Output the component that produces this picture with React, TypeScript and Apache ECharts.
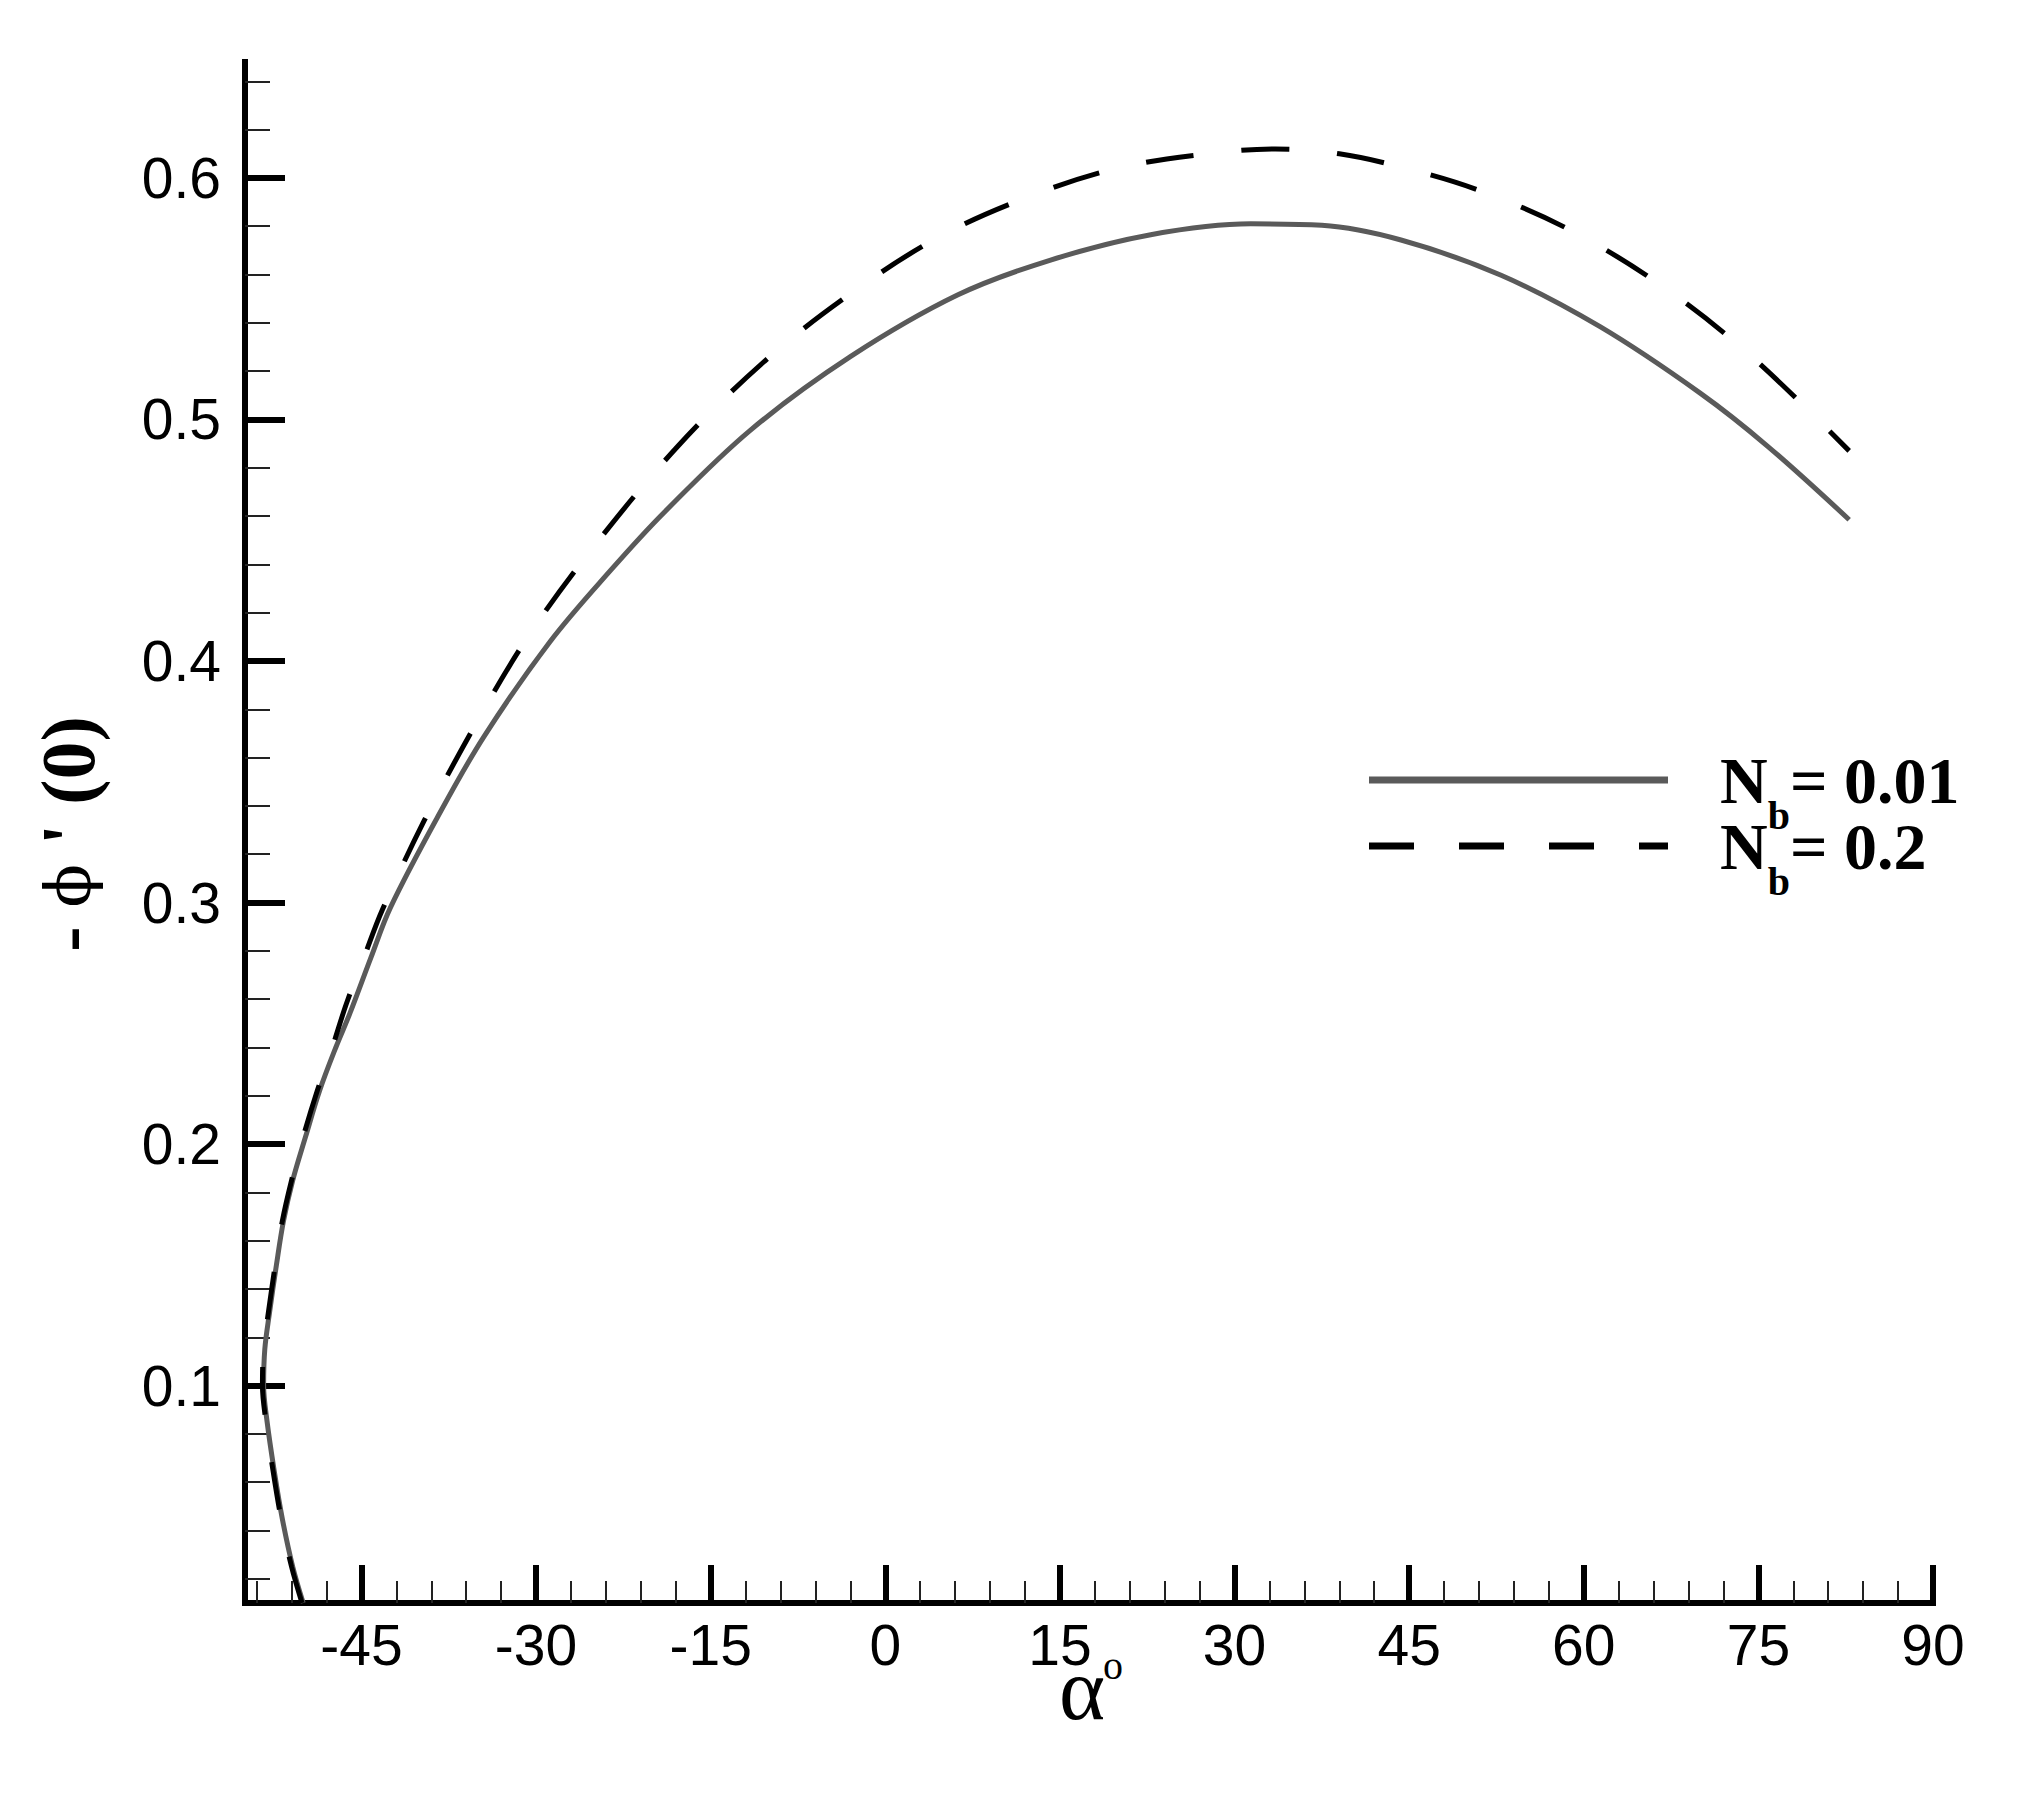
import React, { useEffect, useRef } from "react";
import * as echarts from "echarts";

// ---- data (alpha in degrees, -phi'(0)) ----
const alphaNb001 = [
  -50.0, -50.9, -51.8, -52.5, -53.1, -53.4, -53.3, -52.9, -52.3, -51.7, -50.9, -49.8,
  -48.6, -47.2, -46.0, -44.2, -42.5, -38.5, -34.5, -28.8, -23.6, -19.0, -11.6, -3.0,
  6.2, 14.2, 22.8, 31.4, 37.5, 44.3, 52.9, 61.4, 70.0, 75.8, 82.8,
];
const phiNb001 = [
  0.010, 0.025, 0.045, 0.065, 0.085, 0.100, 0.115, 0.130, 0.150, 0.168, 0.185, 0.203,
  0.222, 0.240, 0.254, 0.277, 0.298, 0.335, 0.3685, 0.408, 0.4375, 0.4615, 0.4955, 0.526,
  0.5515, 0.566, 0.5765, 0.581, 0.5804, 0.5743, 0.5597, 0.5384, 0.5109, 0.4889, 0.4585,
];
const alphaNb02 = [
  -50.1, -51.0, -51.9, -52.6, -53.2, -53.5, -53.4, -53.0, -52.4, -51.8, -51.0, -50.0,
  -48.8, -47.5, -46.3, -44.8, -43.2, -39.6, -35.4, -30.7, -25.1, -17.8, -10.4, -3.3,
  4.4, 12.2, 19.9, 27.7, 33.5, 39.0, 44.7, 50.9, 58.6, 66.5, 74.2, 82.8,
];
const phiNb02 = [
  0.010, 0.025, 0.045, 0.065, 0.085, 0.100, 0.115, 0.130, 0.150, 0.168, 0.185, 0.203,
  0.222, 0.240, 0.258, 0.277, 0.297, 0.334, 0.372, 0.410, 0.447, 0.489, 0.524, 0.551,
  0.575, 0.592, 0.604, 0.610, 0.612, 0.610, 0.604, 0.595, 0.579, 0.556, 0.527, 0.487,
];

const seriesNames = ["Nb = 0.01", "Nb = 0.2"];
const legendValues = ["0.01", "0.2"];

const xMajorTicks = [-45, -30, -15, 0, 15, 30, 45, 60, 75, 90];
const xMinorTicks = [
  -54, -51, -48, -42, -39, -36, -33, -27, -24, -21, -18, -12, -9, -6, -3, 3, 6, 9, 12,
  18, 21, 24, 27, 33, 36, 39, 42, 48, 51, 54, 57, 63, 66, 69, 72, 78, 81, 84, 87,
];
const yMajorTicks = [0.1, 0.2, 0.3, 0.4, 0.5, 0.6];
const yMinorTicks = [
  0.02, 0.04, 0.06, 0.08, 0.12, 0.14, 0.16, 0.18, 0.22, 0.24, 0.26, 0.28, 0.32, 0.34,
  0.36, 0.38, 0.42, 0.44, 0.46, 0.48, 0.52, 0.54, 0.56, 0.58, 0.62, 0.64,
];

const xMin = -55;
const xMax = 90;
const yMin = 0.01;
const yMax = 0.648;

const SERIF = "'Liberation Serif', 'Times New Roman', Times, serif";
const SANS = "'Liberation Sans', Arial, Helvetica, sans-serif";
const SOLID_COLOR = "#5a5a5a";

function zip(xs: number[], ys: number[]) {
  return xs.map((x, i) => [x, ys[i]]);
}

function buildOption() {
  const legendRich = {
    n: {
      fontSize: 66,
      lineHeight: 110,
      fontWeight: "bold",
      fontFamily: SERIF,
      verticalAlign: "middle",
      fill: "#000",
    },
    b: {
      fontSize: 40,
      lineHeight: 40,
      fontWeight: "bold",
      fontFamily: SERIF,
      verticalAlign: "bottom",
      fill: "#000",
    },
  };

  const legendRowsY = [780, 846];

  return {
    animation: false,
    backgroundColor: "#ffffff",
    grid: { left: 245, right: 96, top: 62, bottom: 193, containLabel: false },
    xAxis: [
      {
        type: "value",
        min: xMin,
        max: xMax,
        position: "bottom",
        axisLine: { show: true, onZero: false, lineStyle: { color: "#000", width: 6, cap: "square" } },
        axisTick: {
          show: true,
          inside: true,
          length: 38,
          customValues: xMajorTicks,
          lineStyle: { color: "#000", width: 6 },
        },
        axisLabel: {
          show: true,
          customValues: xMajorTicks,
          margin: 13,
          fontSize: 57,
          fontFamily: SANS,
          color: "#000",
        },
        splitLine: { show: false },
        minorTick: { show: false },
      },
      {
        type: "value",
        min: xMin,
        max: xMax,
        position: "bottom",
        axisLine: { show: false, onZero: false },
        axisTick: {
          show: true,
          inside: true,
          length: 22,
          customValues: xMinorTicks,
          lineStyle: { color: "#222", width: 2 },
        },
        axisLabel: { show: false },
        splitLine: { show: false },
      },
    ],
    yAxis: [
      {
        type: "value",
        min: yMin,
        max: yMax,
        position: "left",
        axisLine: { show: true, onZero: false, lineStyle: { color: "#000", width: 6, cap: "square" } },
        axisTick: {
          show: true,
          inside: true,
          length: 40,
          customValues: yMajorTicks,
          lineStyle: { color: "#000", width: 6 },
        },
        axisLabel: {
          show: true,
          customValues: yMajorTicks,
          margin: 24,
          fontSize: 57,
          fontFamily: SANS,
          color: "#000",
          formatter: (v: number) => v.toFixed(1),
        },
        splitLine: { show: false },
        minorTick: { show: false },
      },
      {
        type: "value",
        min: yMin,
        max: yMax,
        position: "left",
        axisLine: { show: false, onZero: false },
        axisTick: {
          show: true,
          inside: true,
          length: 25,
          customValues: yMinorTicks,
          lineStyle: { color: "#222", width: 2 },
        },
        axisLabel: { show: false },
        splitLine: { show: false },
      },
    ],
    series: [
      {
        type: "line",
        name: seriesNames[0],
        xAxisIndex: 0,
        yAxisIndex: 0,
        data: zip(alphaNb001, phiNb001),
        symbol: "none",
        showSymbol: false,
        smooth: 0.35,
        clip: false,
        lineStyle: { color: SOLID_COLOR, width: 5 },
        z: 3,
      },
      {
        type: "line",
        name: seriesNames[1],
        xAxisIndex: 0,
        yAxisIndex: 0,
        data: zip(alphaNb02, phiNb02),
        symbol: "none",
        showSymbol: false,
        smooth: 0.35,
        clip: false,
        lineStyle: { color: "#000", width: 5, type: [48, 48] },
        z: 4,
      },
    ],
    graphic: [
      // legend samples
      {
        type: "line",
        shape: { x1: 1369, y1: legendRowsY[0], x2: 1668, y2: legendRowsY[0] },
        style: { stroke: SOLID_COLOR, lineWidth: 7 },
      },
      {
        type: "line",
        shape: { x1: 1369, y1: legendRowsY[1], x2: 1668, y2: legendRowsY[1] },
        style: { stroke: "#000", lineWidth: 7, lineDash: [45, 45] },
      },
      {
        type: "text",
        x: 1720,
        y: legendRowsY[0] - 55,
        style: {
          text: `{n|N}{b|b}{n|= ${legendValues[0]}}`,
          rich: legendRich,
          align: "left",
          verticalAlign: "top",
        },
      },
      {
        type: "text",
        x: 1720,
        y: legendRowsY[1] - 55,
        style: {
          text: `{n|N}{b|b}{n|= ${legendValues[1]}}`,
          rich: legendRich,
          align: "left",
          verticalAlign: "top",
        },
      },
      // y-axis title (rotated)
      {
        type: "text",
        x: 68,
        y: 834,
        rotation: Math.PI / 2,
        style: {
          text: "{h|- }{p|ϕ}{h| ' (0)}",
          align: "center",
          verticalAlign: "middle",
          rich: {
            h: {
              fontSize: 76,
              lineHeight: 90,
              fontWeight: "bold",
              fontFamily: SERIF,
              verticalAlign: "middle",
              fill: "#000",
            },
            p: {
              fontSize: 64,
              lineHeight: 90,
              fontWeight: "normal",
              fontFamily: "'DejaVu Serif', 'Liberation Serif', serif",
              verticalAlign: "middle",
              fill: "#000",
            },
          },
        },
      },
      // x-axis title: alpha with a superscript degree mark
      {
        type: "text",
        x: 1082,
        y: 1689,
        style: {
          text: "α",
          fontSize: 88,
          lineHeight: 40,
          fontFamily: SERIF,
          align: "center",
          verticalAlign: "middle",
          fill: "#000",
        },
      },
      {
        type: "text",
        x: 1113,
        y: 1665,
        style: {
          text: "o",
          fontSize: 40,
          lineHeight: 40,
          fontFamily: SERIF,
          align: "center",
          verticalAlign: "middle",
          fill: "#000",
        },
      },
    ],
  };
}

export default function App() {
  const ref = useRef<HTMLDivElement>(null);
  useEffect(() => {
    if (!ref.current) return;
    const chart = echarts.init(ref.current, null, { renderer: "svg" });
    chart.setOption(buildOption() as any);
    return () => {
      chart.dispose();
    };
  }, []);
  return (
    <div
      ref={ref}
      style={{ position: "absolute", left: 0, top: 0, width: 2029, height: 1796, background: "#ffffff" }}
    />
  );
}
